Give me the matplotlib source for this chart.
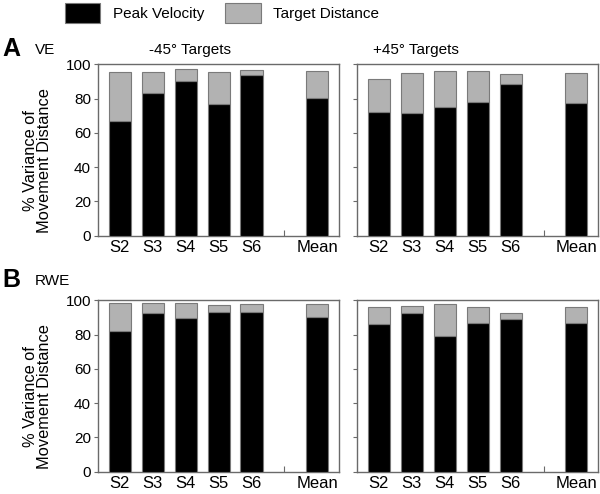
"""Stacked bars: share of movement-distance variance, VE and RWE panels."""
import matplotlib
matplotlib.use("Agg")
import matplotlib.pyplot as plt
from matplotlib.patches import Patch

plt.rcParams["font.family"] = ["Liberation Sans", "DejaVu Sans"]

LABELS = ["S2", "S3", "S4", "S5", "S6", "Mean"]

# peak velocity (black) and target distance (gray, stacked on top)
VE_NEG_PV = [67.1, 83.0, 90.4, 77.0, 93.9, 80.5]
VE_NEG_TD = [28.2, 12.6, 6.6, 18.6, 2.5, 15.7]
VE_POS_PV = [72.1, 71.5, 74.8, 77.8, 88.6, 77.6]
VE_POS_TD = [19.5, 23.2, 21.0, 18.0, 5.9, 17.1]
RWE_NEG_PV = [82.3, 92.4, 89.7, 93.0, 93.2, 90.1]
RWE_NEG_TD = [16.3, 6.0, 8.7, 4.4, 4.6, 7.7]
RWE_POS_PV = [86.2, 92.4, 79.0, 86.6, 89.2, 86.8]
RWE_POS_TD = [9.9, 4.4, 19.0, 9.5, 3.5, 9.3]

GRAY = "#b2b2b2"
EDGE = "#7a7a7a"
SPINE = "#6a6a6a"

# leave an empty slot between S6 and Mean
POS = [0, 1, 2, 3, 4, 6]


def draw(ax, pv, td, show_ylabels):
    ax.bar(POS, pv, width=0.67, color="black", edgecolor=EDGE, linewidth=0.8, zorder=3)
    ax.bar(POS, td, bottom=pv, width=0.67, color=GRAY, edgecolor=EDGE,
           linewidth=0.8, zorder=3)
    ax.set_xlim(-0.66, 6.66)
    ax.set_ylim(0, 100)
    ax.set_xticks(range(7))
    ax.set_xticklabels(LABELS[:5] + [""] + LABELS[5:], fontsize=12)
    ax.set_yticks(range(0, 101, 20))
    ax.tick_params(axis="x", direction="in", length=4, color=SPINE, pad=3)
    ax.tick_params(axis="y", direction="out", length=3, color=SPINE, labelsize=11, pad=2)
    if not show_ylabels:
        ax.set_yticklabels([])
    else:
        ax.set_ylabel("% Variance of\nMovement Distance", fontsize=11.8,
                      linespacing=0.92)
        ax.yaxis.set_label_coords(-0.19, 0.44)
    for s in ax.spines.values():
        s.set_color(SPINE)
        s.set_linewidth(1.0)


def main() -> None:
    fig = plt.figure(figsize=(6.0, 4.94), dpi=100)
    w = 0.402
    h = 0.347
    ax1 = fig.add_axes([0.1633, 0.5229, w, h])
    ax2 = fig.add_axes([0.595, 0.5229, w, h])
    ax3 = fig.add_axes([0.1633, 0.0451, w, h])
    ax4 = fig.add_axes([0.595, 0.0451, w, h])

    draw(ax1, VE_NEG_PV, VE_NEG_TD, True)
    draw(ax2, VE_POS_PV, VE_POS_TD, False)
    draw(ax3, RWE_NEG_PV, RWE_NEG_TD, True)
    draw(ax4, RWE_POS_PV, RWE_POS_TD, False)

    ax1.text(0.38, 1.045, "-45° Targets", transform=ax1.transAxes, ha="center",
             va="bottom", fontsize=11)
    ax2.text(0.245, 1.045, "+45° Targets", transform=ax2.transAxes, ha="center",
             va="bottom", fontsize=11)

    fig.text(0.004, 0.887, "A", fontsize=18, fontweight="bold", va="baseline")
    fig.text(0.058, 0.891, "VE", fontsize=11, va="baseline")
    fig.text(0.004, 0.419, "B", fontsize=18, fontweight="bold", va="baseline")
    fig.text(0.058, 0.423, "RWE", fontsize=11, va="baseline")

    handles = [Patch(facecolor="black", edgecolor=EDGE, linewidth=0.8),
               Patch(facecolor=GRAY, edgecolor=EDGE, linewidth=0.8)]
    fig.legend(handles, ["Peak Velocity", "Target Distance"], ncol=2,
               loc="upper left", bbox_to_anchor=(0.096, 1.01), frameon=False,
               fontsize=11, borderpad=0, handlelength=2.3, handleheight=1.7,
               handletextpad=0.8, columnspacing=1.4)

    fig.savefig("out.png", dpi=100)
    plt.close(fig)


if __name__ == "__main__":
    main()
